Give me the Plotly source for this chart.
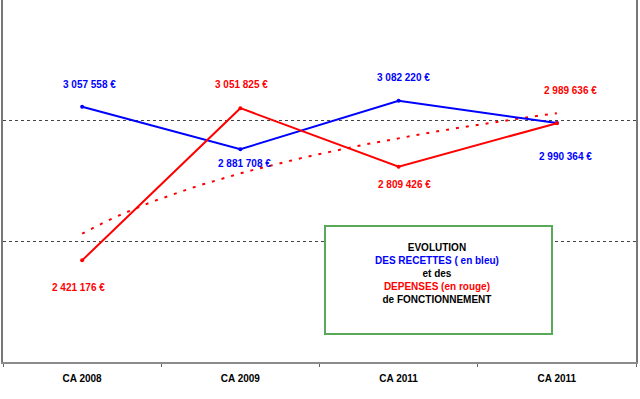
import numpy as np
import plotly.graph_objects as go

categories = ["CA 2008", "CA 2009", "CA 2011", "CA 2011"]
recettes = [3057558, 2881708, 3082220, 2990364]
depenses = [2421176, 3051825, 2809426, 2989636]
grid_vals = [2500000, 3000000]

x = list(range(len(categories)))

def fmt(v):
    return f"{v:,}".replace(",", " ") + " €"

# logarithmic trendline of the expenses (as in the spreadsheet)
b, a = np.polyfit(np.log(np.arange(1, len(depenses) + 1)), depenses, 1)
tx = np.linspace(0, len(depenses) - 1, 40)
ty = a + b * np.log(tx + 1)

fig = go.Figure()
fig.add_trace(go.Scatter(x=tx, y=ty, mode="lines",
                         line=dict(color="#ff0000", width=2, dash="3px,7px"),
                         hoverinfo="skip", showlegend=False))
fig.add_trace(go.Scatter(x=x, y=recettes, mode="lines+markers",
                         line=dict(color="#0000ff", width=2),
                         marker=dict(size=4, color="#0000ff"), showlegend=False))
fig.add_trace(go.Scatter(x=x, y=depenses, mode="lines+markers",
                         line=dict(color="#ff0000", width=2),
                         marker=dict(size=4, color="#ff0000"), showlegend=False))

lbl_font = dict(family="Liberation Sans, Arial", size=10)
blue_off = [(7, 22), (4, -14), (5, 23), (9, -34)]
red_off = [(-4, -27), (1, 24), (6, -18), (14, 33)]
for i in x:
    fig.add_annotation(x=i, y=recettes[i], text=f"<b>{fmt(recettes[i])}</b>",
                       showarrow=False, xshift=blue_off[i][0], yshift=blue_off[i][1],
                       font=dict(color="#0000ff", **lbl_font))
    fig.add_annotation(x=i, y=depenses[i], text=f"<b>{fmt(depenses[i])}</b>",
                       showarrow=False, xshift=red_off[i][0], yshift=red_off[i][1],
                       font=dict(color="#ff0000", **lbl_font))

# legend box
fig.add_shape(type="rect", xref="paper", yref="paper",
              x0=(325 - 3) / 633, x1=(552 - 3) / 633,
              y0=(362 - 334) / 362, y1=(362 - 226) / 362,
              line=dict(color="#5aa85a", width=2), fillcolor="white", layer="above")
box_text = ("<b>EVOLUTION</b><br>"
            "<b><span style='color:#0000ff'>DES RECETTES ( en bleu)</span></b><br>"
            "<b>et des</b><br>"
            "<b><span style='color:#ff0000'>DEPENSES (en rouge)</span></b><br>"
            "<b>de FONCTIONNEMENT</b>")
fig.add_annotation(xref="paper", yref="paper", x=(437 - 3) / 633, y=(362 - 273) / 362,
                   xanchor="center", yanchor="middle",
                   text=box_text, showarrow=False, align="center",
                   font=dict(family="Liberation Sans, Arial", size=10, color="#000000"))

fig.update_layout(
    width=640, height=399,
    margin=dict(l=3, r=4, t=0, b=37),
    paper_bgcolor="white", plot_bgcolor="white",
    xaxis=dict(range=[-0.5, 3.5], tickmode="array", tickvals=x,
               ticktext=[f"<b>{c}</b>" for c in categories],
               ticks="", showgrid=False, zeroline=False,
               showline=True, linecolor="#8c8c8c", linewidth=2,
               ticklabelstandoff=6,
               tickfont=dict(family="Liberation Sans, Arial", size=10, color="#000000"),
               minor=dict(tickmode="array", tickvals=[-0.5, 0.5, 1.5, 2.5, 3.5],
                          ticks="outside", ticklen=3, tickcolor="#666666")),
    yaxis=dict(range=[2000000, 3500000], tickmode="array", tickvals=grid_vals,
               showticklabels=False, ticks="", showgrid=True, gridcolor="#444444",
               griddash="3px,3px", gridwidth=1, zeroline=False,
               showline=True, linecolor="#777777", linewidth=2, mirror=True),
)
fig.write_html("out.html", config={"displayModeBar": False},
               post_script="document.body.style.margin='0';")
